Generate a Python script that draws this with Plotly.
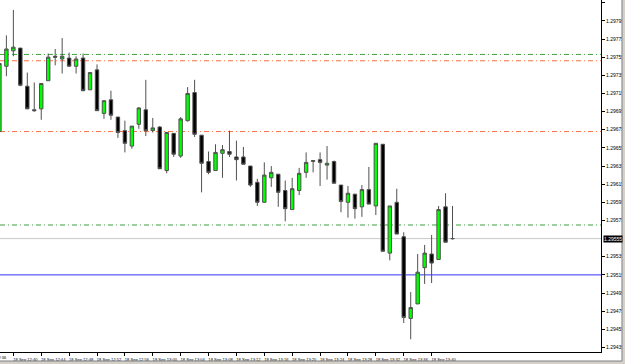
import pandas as pd
import plotly.graph_objects as go

# 1-minute bars, 18 Sep 12:38 .. 13:43
times = pd.date_range("2012-09-18 12:38", periods=66, freq="min")

opens = [1.29673, 1.29745, 1.29762, 1.29765, 1.29723, 1.29697, 1.29698, 1.29729, 1.29756, 1.29753,
         1.29754, 1.29745, 1.29754, 1.29719, 1.29741, 1.29693, 1.29708, 1.29689, 1.29674, 1.29657,
         1.29681, 1.29697, 1.29674, 1.29678, 1.29630, 1.29671, 1.29646, 1.29685, 1.29716, 1.29669,
         1.29640, 1.29630, 1.29649, 1.29651, 1.29645, 1.29645, 1.29635, 1.29617, 1.29595, 1.29622,
         1.29626, 1.29608, 1.29587, 1.29608, 1.29628, 1.29640, 1.29642, 1.29636, 1.29640, 1.29614,
         1.29595, 1.29604, 1.29590, 1.29609, 1.29591, 1.29659, 1.29539, 1.29595, 1.29557, 1.29467,
         1.29483, 1.29523, 1.29538, 1.29532, 1.29590, 1.29555]
highs = [1.29749, 1.29779, 1.29807, 1.29765, 1.29738, 1.29727, 1.29726, 1.29759, 1.29764, 1.29776,
         1.29760, 1.29756, 1.29759, 1.29738, 1.29747, 1.29707, 1.29718, 1.29689, 1.29685, 1.29679,
         1.29700, 1.29730, 1.29688, 1.29679, 1.29672, 1.29671, 1.29689, 1.29722, 1.29730, 1.29669,
         1.29651, 1.29659, 1.29658, 1.29674, 1.29663, 1.29656, 1.29635, 1.29621, 1.29639, 1.29635,
         1.29626, 1.29619, 1.29622, 1.29633, 1.29650, 1.29641, 1.29650, 1.29657, 1.29641, 1.29614,
         1.29613, 1.29604, 1.29614, 1.29634, 1.29660, 1.29659, 1.29591, 1.29610, 1.29562, 1.29496,
         1.29538, 1.29548, 1.29559, 1.29591, 1.29605, 1.29591]
lows = [1.29672, 1.29734, 1.29756, 1.29723, 1.29698, 1.29695, 1.29686, 1.29729, 1.29746, 1.29737,
        1.29745, 1.29737, 1.29718, 1.29719, 1.29696, 1.29687, 1.29686, 1.29666, 1.29650, 1.29654,
        1.29676, 1.29668, 1.29672, 1.29632, 1.29627, 1.29645, 1.29644, 1.29684, 1.29667, 1.29606,
        1.29626, 1.29630, 1.29622, 1.29645, 1.29619, 1.29637, 1.29612, 1.29591, 1.29595, 1.29612,
        1.29590, 1.29574, 1.29587, 1.29603, 1.29622, 1.29628, 1.29613, 1.29620, 1.29616, 1.29584,
        1.29578, 1.29577, 1.29579, 1.29593, 1.29581, 1.29541, 1.29531, 1.29560, 1.29462, 1.29444,
        1.29483, 1.29505, 1.29506, 1.29532, 1.29551, 1.29554]
closes = [1.29748, 1.29764, 1.29766, 1.29724, 1.29698, 1.29696, 1.29726, 1.29755, 1.29755, 1.29756,
          1.29745, 1.29753, 1.29718, 1.29738, 1.29696, 1.29707, 1.29691, 1.29672, 1.29660, 1.29679,
          1.29699, 1.29674, 1.29677, 1.29632, 1.29672, 1.29648, 1.29687, 1.29715, 1.29670, 1.29638,
          1.29628, 1.29650, 1.29653, 1.29648, 1.29642, 1.29637, 1.29614, 1.29595, 1.29625, 1.29628,
          1.29606, 1.29588, 1.29610, 1.29627, 1.29639, 1.29641, 1.29639, 1.29638, 1.29616, 1.29596,
          1.29605, 1.29588, 1.29609, 1.29593, 1.29660, 1.29541, 1.29591, 1.29560, 1.29468, 1.29479,
          1.29518, 1.29539, 1.29528, 1.29587, 1.29551, 1.29555]

# x-axis labels
tick_times = ["2012-09-18 12:40", "2012-09-18 12:44", "2012-09-18 12:48", "2012-09-18 12:52",
              "2012-09-18 12:56", "2012-09-18 13:00", "2012-09-18 13:04", "2012-09-18 13:08",
              "2012-09-18 13:12", "2012-09-18 13:16", "2012-09-18 13:20", "2012-09-18 13:24",
              "2012-09-18 13:28", "2012-09-18 13:32", "2012-09-18 13:36", "2012-09-18 13:40"]
tick_text = ["18 Sep 12:40", "18 Sep 12:44", "18 Sep 12:48", "18 Sep 12:52", "18 Sep 12:56",
             "18 Sep 13:00", "18 Sep 13:04", "18 Sep 13:08", "18 Sep 13:12", "18 Sep 13:16",
             "18 Sep 13:20", "18 Sep 13:24", "18 Sep 13:28", "18 Sep 13:32", "18 Sep 13:36",
             "18 Sep 13:40"]
first_label = "18 Sep 12:36"

# y-axis labels (1.29555 is covered by the bid box)
price_ticks = [1.29815, 1.29795, 1.29775, 1.29755, 1.29735, 1.29715, 1.29695, 1.29675, 1.29655,
               1.29635, 1.29615, 1.29595, 1.29575, 1.29535, 1.29515, 1.29495, 1.29475,
               1.29455, 1.29435]
bid_price = 1.29555
bid_label = "1.29555"

# horizontal levels
green_levels = [1.29758, 1.29570]
orange_levels = [1.29751, 1.29673]
blue_levels = [1.29515]

FONT = "Liberation Sans"
XFS = 4.1

fig = go.Figure()
fig.add_trace(go.Candlestick(
    x=times, open=opens, high=highs, low=lows, close=closes,
    increasing=dict(fillcolor="#00FF00", line=dict(color="#505050", width=1)),
    decreasing=dict(fillcolor="#000000", line=dict(color="#505050", width=1)),
    whiskerwidth=0, hoverinfo="skip", showlegend=False,
))

shapes = []
for lv in green_levels:
    shapes.append(dict(type="line", xref="paper", x0=0, x1=1, yref="y", y0=lv, y1=lv,
                       line=dict(color="#3CA03C", width=1, dash="5px,3px,1px,3px"), layer="below"))
for lv in orange_levels:
    shapes.append(dict(type="line", xref="paper", x0=0, x1=1, yref="y", y0=lv, y1=lv,
                       line=dict(color="#FF7040", width=1, dash="5px,3px,1px,3px"), layer="below"))
for lv in blue_levels:
    shapes.append(dict(type="line", xref="paper", x0=0, x1=1, yref="y", y0=lv, y1=lv,
                       line=dict(color="#3333FF", width=1), layer="below"))
shapes.append(dict(type="line", xref="paper", x0=0, x1=1, yref="y", y0=bid_price, y1=bid_price,
                   line=dict(color="#C8C8C8", width=1), layer="below"))
# window frame (right and bottom)
shapes.append(dict(type="rect", xref="paper", yref="paper", x0=1.0349, x1=1.05, y0=-0.05, y1=1.01,
                   fillcolor="#D4D0C8", line=dict(width=0)))
shapes.append(dict(type="rect", xref="paper", yref="paper", x0=-0.01, x1=1.05, y0=-0.05, y1=-0.0256,
                   fillcolor="#D4D0C8", line=dict(width=0)))
shapes.append(dict(type="line", xref="paper", yref="paper", x0=1.0349, x1=1.0349, y0=-0.0256, y1=1.01,
                   line=dict(color="#808080", width=1)))
shapes.append(dict(type="line", xref="paper", yref="paper", x0=-0.01, x1=1.0349, y0=-0.0256, y1=-0.0256,
                   line=dict(color="#808080", width=1)))

annotations = [
    dict(xref="paper", yref="y", x=1, y=bid_price, text=bid_label, showarrow=False,
         xanchor="left", xshift=2, bgcolor="#000000", borderpad=0,
         font=dict(color="#FFFFFF", size=5, family=FONT)),
    dict(xref="paper", yref="paper", x=9 / 601, y=0, yshift=-5, text=first_label, showarrow=False,
         xanchor="right", yanchor="middle",
         font=dict(color="#000000", size=XFS, family=FONT)),
]

fig.update_layout(
    width=625, height=364,
    margin=dict(l=0, r=24, t=0, b=12, autoexpand=False),
    paper_bgcolor="#FFFFFF", plot_bgcolor="#FFFFFF",
    font=dict(family=FONT, size=XFS, color="#000000"),
    shapes=shapes, annotations=annotations,
    showlegend=False,
)
fig.update_xaxes(
    type="date", range=["2012-09-18 12:38:05", "2012-09-18 14:04:18"],
    rangeslider_visible=False, automargin=False,
    tickvals=tick_times, ticktext=tick_text, tickangle=0,
    ticks="outside", ticklen=3, tickwidth=1, tickcolor="#000000",
    ticklabelshift=12, ticklabelstandoff=0,
    showline=True, linecolor="#000000", linewidth=1,
    showgrid=False, zeroline=False,
    tickfont=dict(size=XFS, family=FONT, color="#000000"),
)
fig.update_yaxes(
    side="right", range=[1.29430, 1.29818], automargin=False,
    tickvals=price_ticks, tickformat=".5f",
    ticks="outside", ticklen=3, tickwidth=1, tickcolor="#000000",
    showline=True, linecolor="#000000", linewidth=1,
    showgrid=False, zeroline=False,
    tickfont=dict(size=5, family=FONT, color="#000000"),
)

fig.write_html("out.html")
